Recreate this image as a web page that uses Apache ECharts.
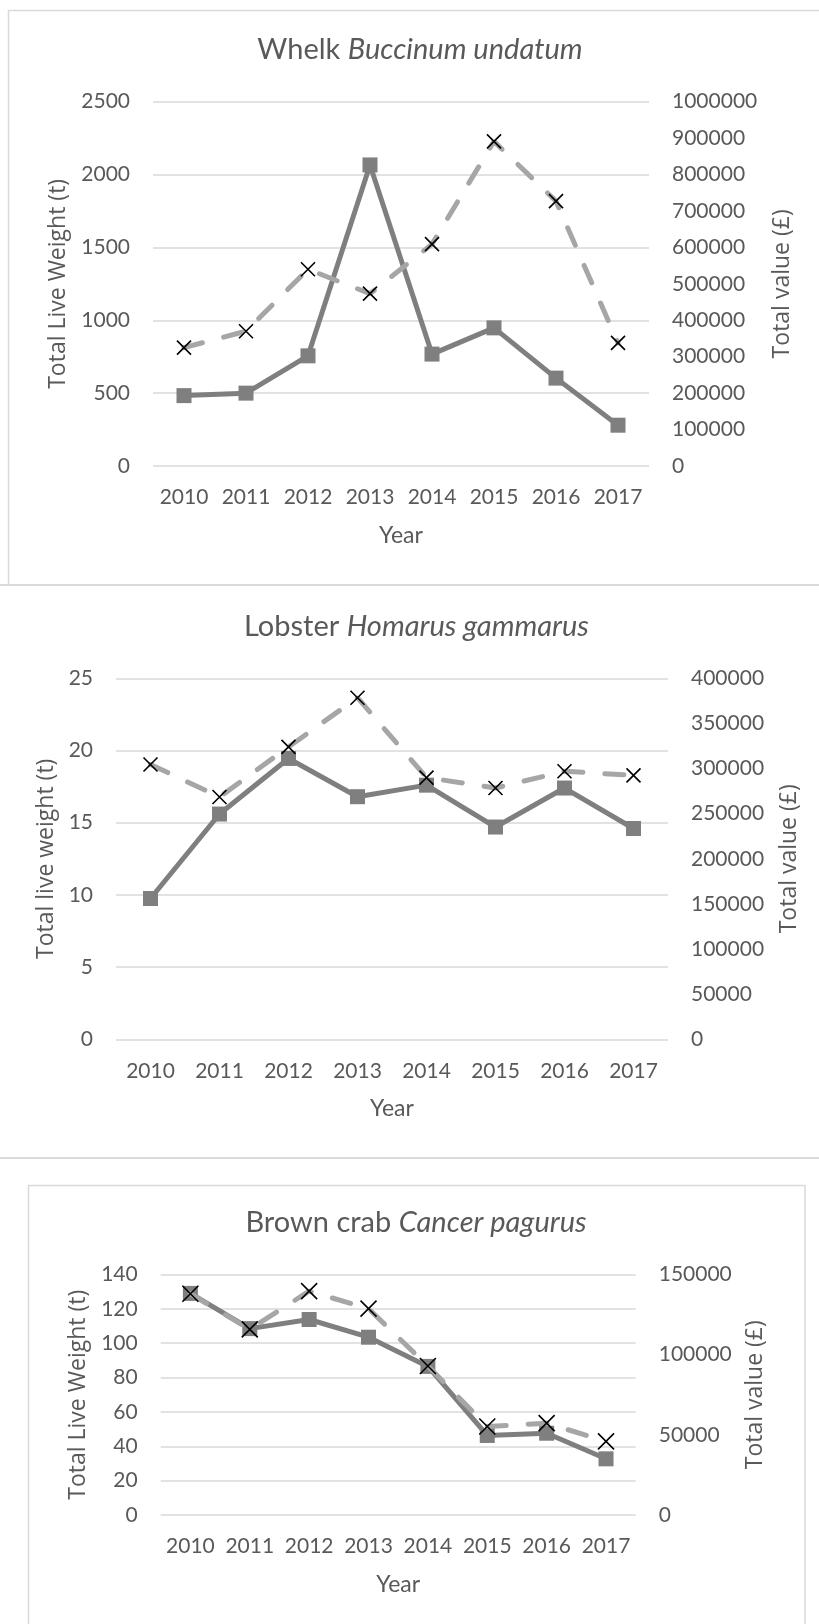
<!DOCTYPE html>
<html>
<head>
<meta charset="utf-8">
<title>Landings by species</title>
<script src="https://cdn.jsdelivr.net/npm/echarts@6/dist/echarts.min.js"></script>
<style>
  html, body { margin: 0; padding: 0; background: #ffffff; }
  #chart { width: 819px; height: 1624px; }
</style>
</head>
<body>
<div id="chart"></div>
<script>
// Landing years shared by the three panels
const years = ['2010', '2011', '2012', '2013', '2014', '2015', '2016', '2017'];

// Whelk (Buccinum undatum)
const whelkWeight = [483, 500, 756, 2066, 768, 948, 603, 280];
const whelkValue = [325000, 370000, 540000, 473000, 609000, 891000, 727000, 338000];

// Lobster (Homarus gammarus)
const lobsterWeight = [9.75, 15.6, 19.45, 16.8, 17.6, 14.7, 17.4, 14.6];
const lobsterValue = [304500, 268500, 324000, 378500, 290000, 278500, 297000, 292500];

// Brown crab (Cancer pagurus)
const crabWeight = [129, 108.5, 113.8, 103.5, 86.5, 46.3, 47.6, 32.7];
const crabValue = [138000, 115800, 139600, 128700, 92900, 55200, 57300, 45900];

const TEXT = '#595959';
const GRID_LINE = '#d9d9d9';
const WEIGHT_COLOR = '#7f7f7f';
const VALUE_COLOR = '#a6a6a6';
const CROSS = 'path://M0,0L10,10M10,0L0,10';

const plainNumber = function (v) { return String(v); };
const tickLabel = { color: TEXT, fontFamily: 'Lato', fontSize: 21, formatter: plainNumber };
const axisNameStyle = { color: TEXT, fontFamily: 'Open Sans', fontSize: 23 };

const panels = [
  {
    common: 'Whelk ', latin: 'Buccinum undatum', titleX: 420, titleTop: 34,
    grid: { left: 153, top: 101.7, width: 496, height: 364.3 },
    leftName: 'Total Live Weight (t)', leftMax: 2500, leftStep: 500, leftGap: 80,
    rightMax: 1000000, rightStep: 100000, rightGap: 122,
    weight: whelkWeight, value: whelkValue, symbol: 15, cross: 14
  },
  {
    common: 'Lobster ', latin: 'Homarus gammarus', titleX: 416.5, titleTop: 610.7,
    grid: { left: 116, top: 678.3, width: 552, height: 361 },
    leftName: 'Total live weight (t)', leftMax: 25, leftStep: 5, leftGap: 58,
    rightMax: 400000, rightStep: 50000, rightGap: 110,
    weight: lobsterWeight, value: lobsterValue, symbol: 15, cross: 14
  },
  {
    common: 'Brown crab ', latin: 'Cancer pagurus', titleX: 416, titleTop: 1207,
    grid: { left: 160.7, top: 1274.5, width: 475, height: 240.5 },
    leftName: 'Total Live Weight (t)', leftMax: 140, leftStep: 20, leftGap: 71,
    rightMax: 150000, rightStep: 50000, rightGap: 108.5,
    weight: crabWeight, value: crabValue, symbol: 15, cross: 16
  }
];

const option = {
  animation: false,
  backgroundColor: '#ffffff',
  title: [], grid: [], xAxis: [], yAxis: [], series: [],
  graphic: [
    // frame of the whelk panel
    { type: 'line', shape: { x1: 8.5, y1: 10, x2: 8.5, y2: 585 }, style: { stroke: GRID_LINE, lineWidth: 1.5 } },
    { type: 'line', shape: { x1: 8, y1: 10.5, x2: 819, y2: 10.5 }, style: { stroke: GRID_LINE, lineWidth: 1.5 } },
    { type: 'line', shape: { x1: 0, y1: 585, x2: 819, y2: 585 }, style: { stroke: GRID_LINE, lineWidth: 2 } },
    // separator under the lobster panel
    { type: 'line', shape: { x1: 0, y1: 1158, x2: 819, y2: 1158 }, style: { stroke: GRID_LINE, lineWidth: 2 } },
    // frame of the brown crab panel
    { type: 'rect', shape: { x: 28.5, y: 1185.5, width: 776.5, height: 460 }, style: { fill: 'none', stroke: GRID_LINE, lineWidth: 1.5 } }
  ]
};

panels.forEach(function (p, i) {
  option.title.push({
    text: '{a|' + p.common + '}{b|' + p.latin + '}',
    left: p.titleX, top: p.titleTop, textAlign: 'center', padding: 0,
    textStyle: {
      fontWeight: 'normal',
      rich: {
        a: { fontFamily: 'Lato', fontSize: 29, fontWeight: 'normal', color: TEXT, lineHeight: 32 },
        b: { fontFamily: 'Lato', fontStyle: 'italic', fontWeight: 'normal', fontSize: 29, color: TEXT, lineHeight: 32 }
      }
    }
  });
  option.grid.push(Object.assign({ containLabel: false }, p.grid));
  option.xAxis.push({
    type: 'category', gridIndex: i, data: years, boundaryGap: true,
    axisLine: { show: false }, axisTick: { show: false },
    axisLabel: { color: TEXT, fontFamily: 'Lato', fontSize: 21, margin: 21, interval: 0 },
    name: 'Year', nameLocation: 'middle', nameGap: 58,
    nameTextStyle: { color: TEXT, fontFamily: 'Lato', fontSize: 23 }
  });
  option.yAxis.push({
    type: 'value', gridIndex: i, position: 'left',
    min: 0, max: p.leftMax, interval: p.leftStep,
    axisLine: { show: false }, axisTick: { show: false },
    axisLabel: Object.assign({ margin: 23 }, tickLabel),
    splitLine: { show: true, lineStyle: { color: GRID_LINE, width: 1.5 } },
    name: p.leftName, nameLocation: 'middle', nameRotate: 90, nameGap: p.leftGap,
    nameTextStyle: axisNameStyle
  });
  option.yAxis.push({
    type: 'value', gridIndex: i, position: 'right',
    min: 0, max: p.rightMax, interval: p.rightStep,
    axisLine: { show: false }, axisTick: { show: false },
    axisLabel: Object.assign({ margin: 23 }, tickLabel),
    splitLine: { show: false },
    name: 'Total value (£)', nameLocation: 'middle', nameRotate: 90, nameGap: p.rightGap,
    nameTextStyle: axisNameStyle
  });
  option.series.push({
    name: 'Live weight', type: 'line', xAxisIndex: i, yAxisIndex: 2 * i,
    data: p.weight, symbol: 'rect', symbolSize: p.symbol,
    lineStyle: { color: WEIGHT_COLOR, width: 5 },
    itemStyle: { color: WEIGHT_COLOR }, z: 2, silent: true
  });
  option.series.push({
    name: 'Value', type: 'line', xAxisIndex: i, yAxisIndex: 2 * i + 1,
    data: p.value, symbol: CROSS, symbolSize: p.cross,
    lineStyle: { color: VALUE_COLOR, width: 5, type: [19, 22], cap: 'round' },
    itemStyle: { color: 'none', borderColor: '#000000', borderWidth: 1.6 },
    z: 3, silent: true
  });
});

const chart = echarts.init(document.getElementById('chart'), null, { renderer: 'canvas' });
chart.setOption(option);
</script>
</body>
</html>
